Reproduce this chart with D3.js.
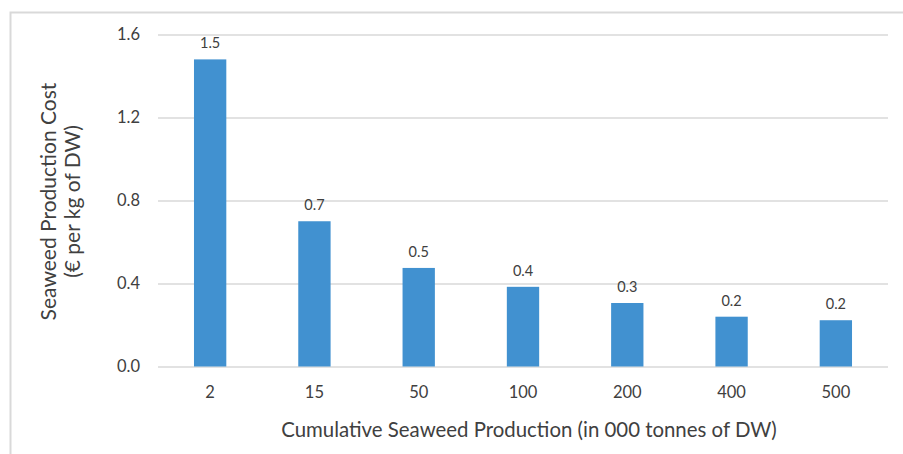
<!DOCTYPE html>
<html><head><meta charset="utf-8">
<script src="https://cdn.jsdelivr.net/npm/d3@7"></script>
<style>body{margin:0;background:#fff;}svg text{font-family:Lato,"Open Sans",sans-serif;fill:#404040;}</style>
</head><body><svg id="c" width="903" height="454"></svg>
<script>
const categories = ["2","15","50","100","200","400","500"];
const values = [1.48,0.70,0.475,0.384,0.306,0.24,0.223];
const labels = ["1.5","0.7","0.5","0.4","0.3","0.2","0.2"];
const yTicks = [0,0.4,0.8,1.2,1.6];

const svg = d3.select("#c");
svg.append("path").attr("d","M10.5,454 L10.5,12.5 L903,12.5").attr("fill","none").attr("stroke","#d9d9d9").attr("stroke-width",2);

const x = d3.scaleBand().domain(categories).range([158,888]).paddingInner(0.69).paddingOuter(0.345);
const y = d3.scaleLinear().domain([0,1.6]).range([366.5,34.5]);

const yAxis = d3.axisLeft(y).tickValues(yTicks).tickFormat(d3.format(".1f")).tickSize(-730).tickPadding(18);
const gy = svg.append("g").attr("transform","translate(158,0)").call(yAxis);
gy.select(".domain").remove();
gy.selectAll(".tick line").attr("stroke","#d9d9d9").attr("stroke-width",1.3);
gy.selectAll(".tick text").attr("font-size",16.5).style("fill","#404040");

svg.append("g").selectAll("rect").data(values).join("rect")
  .attr("x",(d,i)=>x(categories[i])).attr("width",x.bandwidth())
  .attr("y",d=>y(d)).attr("height",d=>y(0)-y(d)).attr("fill","#4191d0");

svg.append("g").selectAll("text").data(values).join("text")
  .attr("x",(d,i)=>x(categories[i])+x.bandwidth()/2).attr("y",d=>y(d)-11)
  .attr("text-anchor","middle").attr("font-size",14.5).text((d,i)=>labels[i]);

const xAxis = d3.axisBottom(x).tickSize(0).tickPadding(20);
const gx = svg.append("g").attr("transform","translate(0,366.5)").call(xAxis);
gx.select(".domain").remove();
gx.selectAll(".tick text").attr("font-size",16.5).style("fill","#404040");

svg.append("text").attr("x",529).attr("y",437).attr("text-anchor","middle").attr("font-size",20.4)
  .text("Cumulative Seaweed Production (in 000 tonnes of DW)");

const yt = svg.append("text").attr("transform","translate(56,201.5) rotate(-90)").attr("text-anchor","middle").attr("font-size",21);
yt.append("tspan").attr("x",0).attr("y",0).text("Seaweed Production Cost");
yt.append("tspan").attr("x",0).attr("y",24).text("(€ per kg of DW)");
</script></body></html>
